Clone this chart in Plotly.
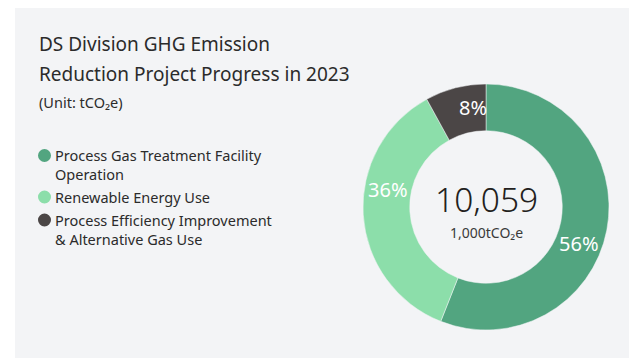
import plotly.graph_objects as go

W, H = 629, 358

# Data
categories = [
    "Process Gas Treatment Facility<br>Operation",
    "Renewable Energy Use",
    "Process Efficiency Improvement<br>& Alternative Gas Use",
]
shares = [56, 36, 8]          # % of total reduction
colors = ["#52a580", "#8cdeaa", "#4b4646"]
total_value = "10,059"
total_unit = "1,000tCO₂e"
title_lines = ["DS Division GHG Emission", "Reduction Project Progress in 2023"]
unit_note = "(Unit: tCO₂e)"

FONT = "Noto Sans"
TEXT = "#2b2b2b"


def px_x(x):
    return x / W


def px_y(y):
    return 1 - y / H


# Donut geometry (pixels)
cx, cy, r = 486, 207, 123

fig = go.Figure()
fig.add_trace(go.Pie(
    values=shares,
    labels=[c.replace("<br>", " ") for c in categories],
    marker=dict(colors=colors, line=dict(color="#f3f4f6", width=0.5)),
    hole=0.62,
    sort=False,
    direction="clockwise",
    rotation=0,
    textinfo="none",
    domain=dict(x=[px_x(cx - r), px_x(cx + r)], y=[px_y(cy + r), px_y(cy - r)]),
    showlegend=False,
    hoverinfo="label+percent",
))

shapes = [
    dict(type="rect", xref="paper", yref="paper", layer="below",
         x0=px_x(15), x1=1, y0=0, y1=px_y(8),
         fillcolor="#f3f4f6", line=dict(width=0)),
]

annotations = []
# Title
for i, line in enumerate(title_lines):
    annotations.append(dict(
        text=line, x=px_x(37), y=px_y(44 + 30 * i), xref="paper", yref="paper",
        xanchor="left", yanchor="middle", showarrow=False,
        font=dict(family=FONT, size=19, color=TEXT)))
annotations.append(dict(
    text=unit_note, x=px_x(37), y=px_y(102), xref="paper", yref="paper",
    xanchor="left", yanchor="middle", showarrow=False,
    font=dict(family=FONT, size=14.5, color=TEXT)))

# Legend: marker circle + (possibly two-line) label
LEG_SIZE = 14.5
line_h = 1.3 * LEG_SIZE
legend_first_line = [155.5, 197, 220]
for cat, col, y0 in zip(categories, colors, legend_first_line):
    n_lines = cat.count("<br>") + 1
    mid = y0 + (n_lines - 1) * line_h / 2
    annotations.append(dict(
        text=cat, x=px_x(53), y=px_y(mid), xref="paper", yref="paper",
        xanchor="left", yanchor="middle", align="left", showarrow=False,
        font=dict(family=FONT, size=LEG_SIZE, color=TEXT)))
    shapes.append(dict(
        type="circle", xref="paper", yref="paper",
        x0=px_x(38), x1=px_x(51), y0=px_y(y0 + 6.5), y1=px_y(y0 - 6.5),
        fillcolor=col, line=dict(width=0)))

# Percentage labels on the ring
label_pos = [(579, 243), (388, 189), (473, 107)]
for v, (lx, ly) in zip(shares, label_pos):
    annotations.append(dict(
        text=f"{v}%", x=px_x(lx), y=px_y(ly), xref="paper", yref="paper",
        xanchor="center", yanchor="middle", showarrow=False,
        font=dict(family=FONT, size=20, color="white")))

# Centre total
annotations.append(dict(
    text=total_value, x=px_x(cx), y=px_y(199), xref="paper", yref="paper",
    xanchor="center", yanchor="middle", showarrow=False,
    font=dict(family=FONT, size=33.5, color="#231f20", weight=300)))
annotations.append(dict(
    text=total_unit, x=px_x(cx), y=px_y(232), xref="paper", yref="paper",
    xanchor="center", yanchor="middle", showarrow=False,
    font=dict(family=FONT, size=14, color="#3a3a3a")))

fig.update_layout(
    width=W, height=H,
    margin=dict(l=0, r=0, t=0, b=0),
    paper_bgcolor="white",
    plot_bgcolor="white",
    shapes=shapes,
    annotations=annotations,
)

fig.write_html("out.html")
